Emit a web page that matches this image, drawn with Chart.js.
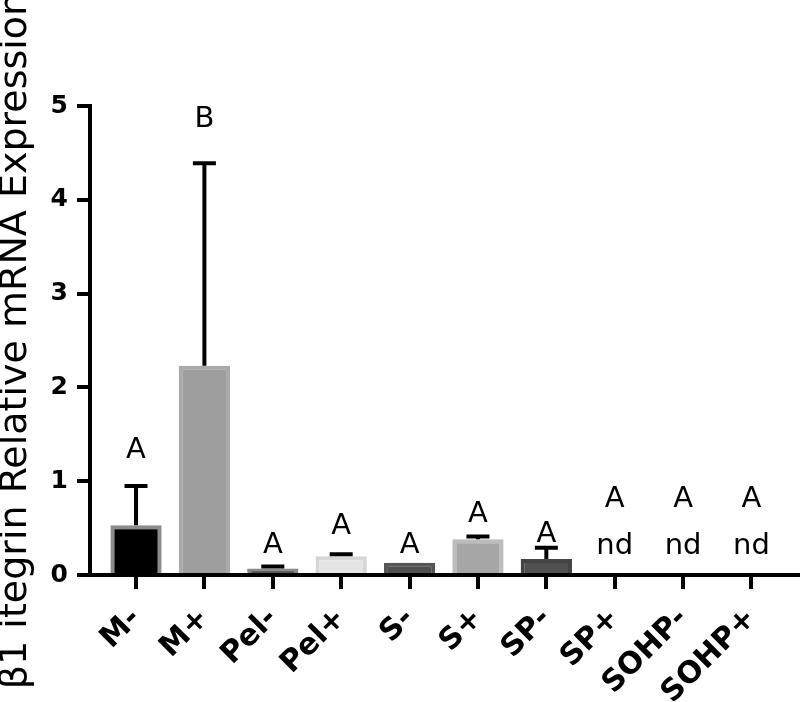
<!DOCTYPE html>
<html>
<head>
<meta charset="utf-8">
<script src="https://cdn.jsdelivr.net/npm/chart.js@4.4.1/dist/chart.umd.min.js"></script>
<style>
  html, body { margin: 0; padding: 0; background: #fff; }
  #wrap { width: 800px; height: 702px; position: relative; }
</style>
</head>
<body>
<div id="wrap"><canvas id="c"></canvas></div>
<script>
// ---- data ----
const categories = ["M-", "M+", "Pel-", "Pel+", "S-", "S+", "SP-", "SP+", "SOHP-", "SOHP+"];
const means      = [0.53, 2.23, 0.07, 0.20, 0.13, 0.38, 0.17, 0, 0, 0];
const errorTops  = [0.95, 4.39, 0.09, 0.22, 0.13, 0.41, 0.29, 0, 0, 0];
const letters    = ["A", "B", "A", "A", "A", "A", "A", "A", "A", "A"];
const letterLevels = [1.25, 4.78, 0.235, 0.44, 0.235, 0.565, 0.35, 0.725, 0.725, 0.725];
const notDetected  = [false, false, false, false, false, false, false, true, true, true];
const ndLevel = 0.224;
const yTicks = [0, 1, 2, 3, 4, 5];
const yTitle = "β1 itegrin Relative mRNA Expression";

const fillColors   = ["#000000", "#9e9e9e", "#5a5a5a", "#e4e4e4", "#4f4f4f", "#a6a6a6", "#505050", "#505050", "#505050", "#505050"];
const borderColors = ["#8c8c8c", "#a9a9a9", "#878787", "#d6d6d6", "#555555", "#bcbcbc", "#444444", "#444444", "#444444", "#444444"];

// x-axis tick marks, placed at the x scale's own tick values
const xTickMarkPlugin = {
  id: 'xTickMarks',
  afterDraw(chart) {
    const xs = chart.scales.x, ctx = chart.ctx;
    const yTop = xs.top + 2, yBot = xs.top + 14;
    ctx.save();
    ctx.strokeStyle = '#000';
    ctx.lineWidth = 4;
    xs.ticks.forEach(t => {
      const x = Math.round(xs.getPixelForValue(t.value));
      ctx.beginPath();
      ctx.moveTo(x, yTop); ctx.lineTo(x, yBot);
      ctx.stroke();
    });
    ctx.restore();
  }
};

const errorBarPlugin = {
  id: 'errorBars',
  afterDatasetsDraw(chart) {
    const xs = chart.scales.x, ys = chart.scales.y, ctx = chart.ctx;
    ctx.save();
    ctx.strokeStyle = '#000';
    ctx.lineWidth = 4;
    ctx.lineCap = 'butt';
    means.forEach((m, i) => {
      if (errorTops[i] <= m) return;
      const x = xs.getPixelForValue(i);
      const y0 = ys.getPixelForValue(m);
      const y1 = ys.getPixelForValue(errorTops[i]);
      ctx.beginPath();
      ctx.moveTo(x, y0); ctx.lineTo(x, y1);
      ctx.moveTo(x - 11.5, y1); ctx.lineTo(x + 11.5, y1);
      ctx.stroke();
    });
    ctx.restore();
  }
};

const letterPlugin = {
  id: 'letters',
  afterDatasetsDraw(chart) {
    const xs = chart.scales.x, ys = chart.scales.y, ctx = chart.ctx;
    ctx.save();
    ctx.fillStyle = '#000';
    ctx.textAlign = 'center';
    ctx.textBaseline = 'alphabetic';
    ctx.font = '29px "DejaVu Sans"';
    letters.forEach((t, i) => {
      const x = xs.getPixelForValue(i);
      ctx.fillText(t, x, ys.getPixelForValue(letterLevels[i]));
      if (notDetected[i]) {
        ctx.fillText('nd', x, ys.getPixelForValue(ndLevel));
      }
    });
    ctx.restore();
  }
};

const yTitlePlugin = {
  id: 'yTitle',
  afterDraw(chart) {
    const ctx = chart.ctx, ca = chart.chartArea;
    ctx.save();
    ctx.translate(26, (ca.top + ca.bottom) / 2);
    ctx.rotate(-Math.PI / 2);
    ctx.fillStyle = '#000';
    ctx.textAlign = 'center';
    ctx.textBaseline = 'alphabetic';
    ctx.font = '38px "DejaVu Sans"';
    ctx.fillText(yTitle, 0, 0);
    ctx.restore();
  }
};

new Chart(document.getElementById('c'), {
  type: 'bar',
  data: {
    datasets: [{
      data: means.map((v, i) => ({ x: i, y: v })),
      backgroundColor: fillColors,
      borderColor: borderColors,
      borderWidth: 4,
      borderSkipped: 'start',
      categoryPercentage: 1,
      barPercentage: 0.75
    }]
  },
  options: {
    responsive: true,
    maintainAspectRatio: false,
    animation: false,
    layout: { padding: { top: 106, right: 2, left: 0, bottom: 0 } },
    plugins: { legend: { display: false }, tooltip: { enabled: false } },
    scales: {
      x: {
        type: 'linear',
        min: -0.673,
        max: 9.68,
        offset: false,
        afterBuildTicks(scale) { scale.ticks = categories.map((c, i) => ({ value: i })); },
        afterFit(scale) { scale.height = 127; },
        grid: { display: true, offset: false, drawOnChartArea: false, drawTicks: true, tickLength: 14, lineWidth: 4, color: '#000' },
        border: { display: true, color: '#000', width: 4 },
        ticks: {
          autoSkip: false,
          minRotation: 45,
          maxRotation: 45,
          padding: 12,
          color: '#000',
          font: { family: 'DejaVu Sans', size: 30, weight: 'bold' },
          callback: (v) => categories[v]
        }
      },
      y: {
        min: 0,
        max: 5,
        afterBuildTicks(scale) { scale.ticks = yTicks.map(v => ({ value: v })); },
        afterFit(scale) { scale.width = 90; },
        grid: { display: true, drawOnChartArea: false, drawTicks: true, tickLength: 13, lineWidth: 4, color: '#000' },
        border: { display: true, color: '#000', width: 4 },
        ticks: {
          padding: 9,
          color: '#000',
          font: { family: 'DejaVu Sans', size: 25, weight: 'bold' }
        }
      }
    }
  },
  plugins: [errorBarPlugin, letterPlugin, yTitlePlugin, xTickMarkPlugin]
});
</script>
</body>
</html>
